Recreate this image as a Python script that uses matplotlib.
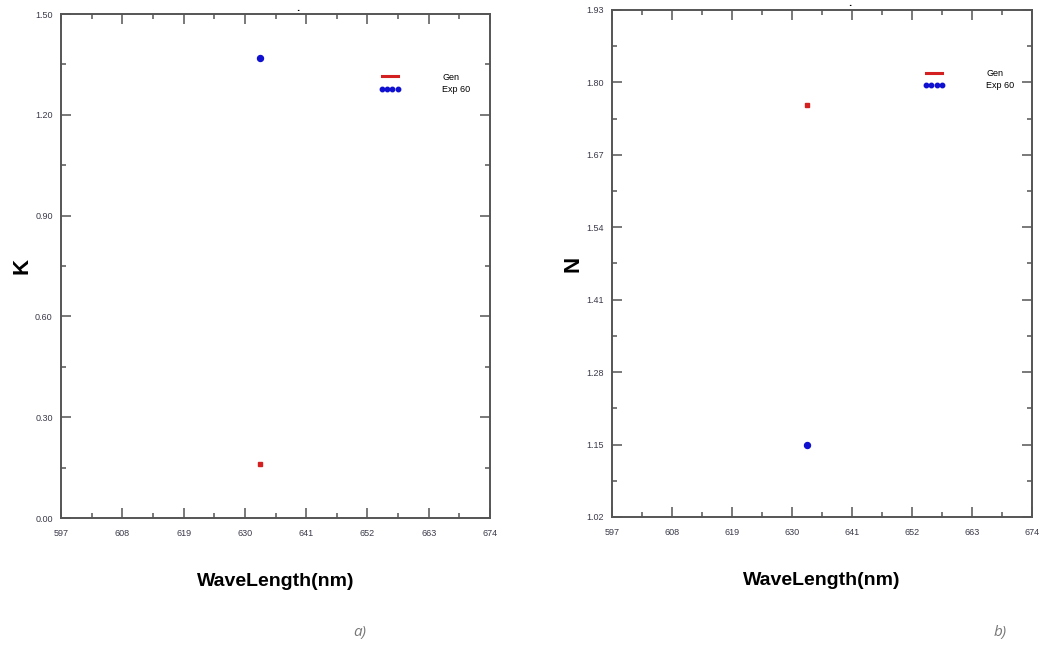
import matplotlib.pyplot as plt
from matplotlib.ticker import FixedLocator
from matplotlib.lines import Line2D

# Daten
wavelength = [632.8]
k_gen = [0.16]
k_exp = [1.37]
n_gen = [1.76]
n_exp = [1.15]

x_ticks = [597, 608, 619, 630, 641, 652, 663, 674]
k_ticks = [0.00, 0.30, 0.60, 0.90, 1.20, 1.50]
n_ticks = [1.02, 1.15, 1.28, 1.41, 1.54, 1.67, 1.80, 1.93]

label_font = ['Liberation Sans', 'DejaVu Sans']
tick_font = ['Liberation Sans', 'DejaVu Sans']
tick_col = '#3a3a4a'
spine_col = '#555555'

fig = plt.figure(figsize=(10.47, 6.49), dpi=100)
ax_k = fig.add_axes([0.0583, 0.2018, 0.4097, 0.7766])
ax_n = fig.add_axes([0.5845, 0.2034, 0.4011, 0.7812])


def midpoints(t):
    return [(a + b) / 2 for a, b in zip(t[:-1], t[1:])]


def style_axes(ax, yticks, ylabel, mark_x):
    ax.set_xlim(x_ticks[0], x_ticks[-1])
    ax.set_ylim(yticks[0], yticks[-1])
    ax.xaxis.set_major_locator(FixedLocator(x_ticks))
    ax.xaxis.set_minor_locator(FixedLocator(midpoints(x_ticks)))
    ax.yaxis.set_major_locator(FixedLocator(yticks))
    ax.yaxis.set_minor_locator(FixedLocator(midpoints(yticks)))
    ax.set_yticklabels([f'{v:.2f}' for v in yticks])
    ax.tick_params(which='both', direction='in', top=True, right=True,
                   colors=spine_col, labelcolor=tick_col, labelsize=6.5, width=1.1)
    ax.tick_params(which='major', length=7)
    ax.tick_params(which='minor', length=3.5)
    ax.tick_params(axis='x', pad=8)
    ax.tick_params(axis='y', pad=6)
    for lab in ax.get_xticklabels() + ax.get_yticklabels():
        lab.set_family(tick_font)
    for sp in ax.spines.values():
        sp.set_color(spine_col)
        sp.set_linewidth(1.4)
    ax.set_xlabel('WaveLength(nm)', fontsize=14, fontweight='bold',
                  family=label_font, labelpad=25)
    ax.set_ylabel(ylabel, fontsize=16, fontweight='bold',
                  family=label_font, labelpad=2)
    ax.text(mark_x, 1.003, '.', transform=ax.transAxes, fontsize=6,
            fontweight='bold', ha='center', va='bottom')

    handles = [Line2D([], [], color='#d42020', linewidth=2.2),
               Line2D([], [], color='#1010d0', linestyle='none',
                      marker='o', markersize=3.2)]
    ax.legend(handles, ['Gen', 'Exp 60'], loc='upper left',
              bbox_to_anchor=(0.722, 0.9), frameon=False,
              handlelength=2.4, handletextpad=4.6, labelspacing=0.35,
              numpoints=4, prop={'family': tick_font, 'size': 6.5})


ax_k.plot(wavelength, k_gen, 's', color='#d42020', markersize=2.3)
ax_k.plot(wavelength, k_exp, 'o', color='#1010d0', markersize=4.3)
style_axes(ax_k, k_ticks, 'K', 0.552)

ax_n.plot(wavelength, n_gen, 's', color='#d42020', markersize=2.3)
ax_n.plot(wavelength, n_exp, 'o', color='#1010d0', markersize=4.3)
style_axes(ax_n, n_ticks, 'N', 0.567)

fig.text(0.344, 0.02, 'a)', fontsize=11, style='italic', color='#777777',
         family=['Open Sans', 'DejaVu Sans'], ha='center')
fig.text(0.955, 0.02, 'b)', fontsize=11, style='italic', color='#777777',
         family=['Open Sans', 'DejaVu Sans'], ha='center')

fig.savefig('out.png', dpi=100)
